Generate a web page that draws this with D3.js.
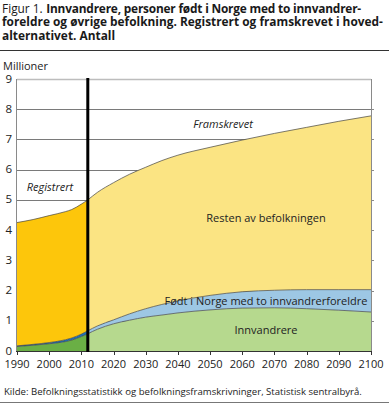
<!DOCTYPE html>
<html><head><meta charset="utf-8">
<script src="https://cdn.jsdelivr.net/npm/d3@7"></script>
<style>
html,body{margin:0;padding:0;background:#fff;}
svg{display:block;font-family:"Open Sans",sans-serif;}
</style></head>
<body><svg id="c" width="389" height="410"></svg>
<script>
// ---- data (millions) ----
const histYears = [1990, 1995, 2000, 2005, 2007, 2010, 2012];
const histImmigrants = [0.15, 0.19, 0.24, 0.31, 0.36, 0.48, 0.57];
const histBornNorway = [0.02, 0.03, 0.04, 0.06, 0.07, 0.08, 0.10];
const histRest = [4.08, 4.13, 4.20, 4.24, 4.25, 4.30, 4.33];

const projYears = [2012, 2015, 2020, 2025, 2030, 2035, 2040, 2050, 2060, 2070, 2080, 2090, 2100];
const projImmigrants = [0.57, 0.72, 0.90, 1.02, 1.12, 1.19, 1.26, 1.36, 1.42, 1.43, 1.40, 1.35, 1.29];
const projBornNorway = [0.10, 0.11, 0.13, 0.21, 0.28, 0.35, 0.40, 0.48, 0.54, 0.58, 0.63, 0.68, 0.74];
const projRest = [4.33, 4.42, 4.54, 4.62, 4.68, 4.76, 4.82, 4.90, 5.02, 5.19, 5.37, 5.57, 5.75];

const yTicks = [0,1,2,3,4,5,6,7,8,9];
const xTicks = [1990,2000,2010,2020,2030,2040,2050,2060,2070,2080,2090,2100];
const splitYear = 2012;

const seriesKeys = ["imm", "born", "rest"];
const histColors = {imm: "#6aaf45", born: "#1b72b8", rest: "#fdc60b"};
const projColors = {imm: "#b6d98e", born: "#9dc7e4", rest: "#fbe483"};

const svg = d3.select("#c");

// ---- title ----
const title = svg.append("g").attr("fill", "#1a1a1a").attr("font-size", 12.3);
const t2 = title.append("text").attr("x", 2).attr("y", 26).attr("font-weight", 700)
  .text("foreldre og øvrige befolkning. Registrert og framskrevet i hoved-");
const t1a = title.append("text").attr("x", 2).attr("y", 13).attr("font-weight", 400).text("Figur 1.");
const t3 = title.append("text").attr("x", 2).attr("y", 39.5).attr("font-weight", 700)
  .text("alternativet. Antall");
const line1 = "Innvandrere, personer født i Norge med to innvandrer-";
const t1b = title.append("text").attr("x", 52).attr("y", 13).attr("font-weight", 700).text(line1);

function fitTitle() {
  title.attr("font-size", 12.3);
  t1b.attr("letter-spacing", null);
  const w2 = t2.node().getComputedTextLength();
  title.attr("font-size", Math.min(12.3 * 381 / w2, 13));
  const xb = 2 + t1a.node().getComputedTextLength() + 3.5;
  t1b.attr("x", xb);
  const w1 = t1b.node().getComputedTextLength();
  if (xb + w1 > 361) t1b.attr("letter-spacing", ((361 - xb - w1) / line1.length).toFixed(3) + "px");
}
fitTitle();
if (document.fonts) {
  Promise.all([
    document.fonts.load('700 12px "Open Sans"'),
    document.fonts.load('400 12px "Open Sans"')
  ]).then(fitTitle).catch(() => {});
  document.fonts.ready.then(fitTitle);
}

svg.append("line").attr("x1", 0).attr("x2", 389).attr("y1", 50.5).attr("y2", 50.5)
  .attr("stroke", "#333").attr("stroke-width", 1);

// ---- scales ----
const x = d3.scaleLinear().domain([1990, 2100]).range([17, 371]);
const y = d3.scaleLinear().domain([0, 9]).range([351, 79]);

// gridlines
svg.append("g").selectAll("line").data(yTicks.filter(d => d > 0))
  .join("line")
  .attr("x1", x(1990)).attr("x2", x(2100))
  .attr("y1", d => Math.round(y(d)) + 0.5).attr("y2", d => Math.round(y(d)) + 0.5)
  .attr("stroke", d => d === 9 ? "#bdbdbd" : "#7a7a7a")
  .attr("stroke-width", d => d === 9 ? 1.6 : 1);

// ---- areas ----
function makeRows(years, imm, born, rest) {
  return years.map((yr, i) => ({year: yr, imm: imm[i], born: born[i], rest: rest[i]}));
}
const stack = d3.stack().keys(seriesKeys);
const area = d3.area().x(d => x(d.data.year)).y0(d => y(d[0])).y1(d => y(d[1])).curve(d3.curveMonotoneX);
const topLine = d3.line().x(d => x(d.data.year)).y(d => y(d[1])).curve(d3.curveMonotoneX);

function drawPeriod(rows, colors) {
  const layers = stack(rows);
  const g = svg.append("g");
  g.selectAll("path.a").data(layers).join("path").attr("class", "a")
    .attr("d", area).attr("fill", d => colors[d.key]);
  g.selectAll("path.l").data(layers).join("path").attr("class", "l")
    .attr("d", topLine).attr("fill", "none").attr("stroke", "#444").attr("stroke-width", 0.7);
}
drawPeriod(makeRows(histYears, histImmigrants, histBornNorway, histRest), histColors);
drawPeriod(makeRows(projYears, projImmigrants, projBornNorway, projRest), projColors);

// ---- axes ----
const ax = svg.append("g");
ax.append("line").attr("x1", x(1990) - 0.5).attr("x2", x(1990) - 0.5).attr("y1", y(9)).attr("y2", y(0))
  .attr("stroke", "#8a8a8a");
ax.append("line").attr("x1", x(2100) + 0.5).attr("x2", x(2100) + 0.5).attr("y1", y(9)).attr("y2", y(0))
  .attr("stroke", "#8a8a8a");
ax.selectAll("line.rt").data(yTicks.filter(d => d > 0 && d < 9)).join("line").attr("class", "rt")
  .attr("x1", x(2100)).attr("x2", x(2100) + 3)
  .attr("y1", d => Math.round(y(d)) + 0.5).attr("y2", d => Math.round(y(d)) + 0.5)
  .attr("stroke", "#8a8a8a");
ax.append("line").attr("x1", x(1990) - 1).attr("x2", x(2100) + 1).attr("y1", y(0) + 0.5).attr("y2", y(0) + 0.5)
  .attr("stroke", "#333");
ax.selectAll("line.xt").data(xTicks).join("line").attr("class", "xt")
  .attr("x1", d => Math.round(x(d)) + 0.5).attr("x2", d => Math.round(x(d)) + 0.5)
  .attr("y1", y(0)).attr("y2", y(0) + 4).attr("stroke", "#333");

svg.append("g").selectAll("text").data(yTicks).join("text")
  .attr("x", 12).attr("y", d => y(d) + 3.5).attr("text-anchor", "end")
  .attr("font-size", 11.5).attr("fill", "#222").text(d => d);
svg.append("g").selectAll("text").data(xTicks).join("text")
  .attr("x", d => x(d)).attr("y", y(0) + 17).attr("text-anchor", "middle")
  .attr("font-size", 11).attr("fill", "#222").text(d => d);

svg.append("text").attr("x", 3).attr("y", 70).attr("font-size", 11).attr("fill", "#222").text("Millioner");

// split line
svg.append("line").attr("x1", x(splitYear)).attr("x2", x(splitYear)).attr("y1", y(9) - 1).attr("y2", y(0) + 1)
  .attr("stroke", "#000").attr("stroke-width", 3);

// ---- labels ----
const lab = svg.append("g").attr("font-size", 11).attr("fill", "#222").attr("text-anchor", "middle");
lab.append("text").attr("x", 50).attr("y", 190.5).attr("font-style", "italic").text("Registrert");
lab.append("text").attr("x", 223).attr("y", 128).attr("font-style", "italic").text("Framskrevet");
lab.append("text").attr("x", 266).attr("y", 222).text("Resten av befolkningen");
lab.append("text").attr("x", 266).attr("y", 304.5).text("Født i Norge med to innvandrerforeldre");
lab.append("text").attr("x", 266).attr("y", 334).text("Innvandrere");

svg.append("text").attr("x", 4).attr("y", 395).attr("font-size", 9.6).attr("fill", "#222")
  .text("Kilde: Befolkningsstatistikk og befolkningsframskrivninger, Statistisk sentralbyrå.");
svg.append("line").attr("x1", 0).attr("x2", 389).attr("y1", 402.5).attr("y2", 402.5)
  .attr("stroke", "#777").attr("stroke-width", 1);
</script></body></html>
